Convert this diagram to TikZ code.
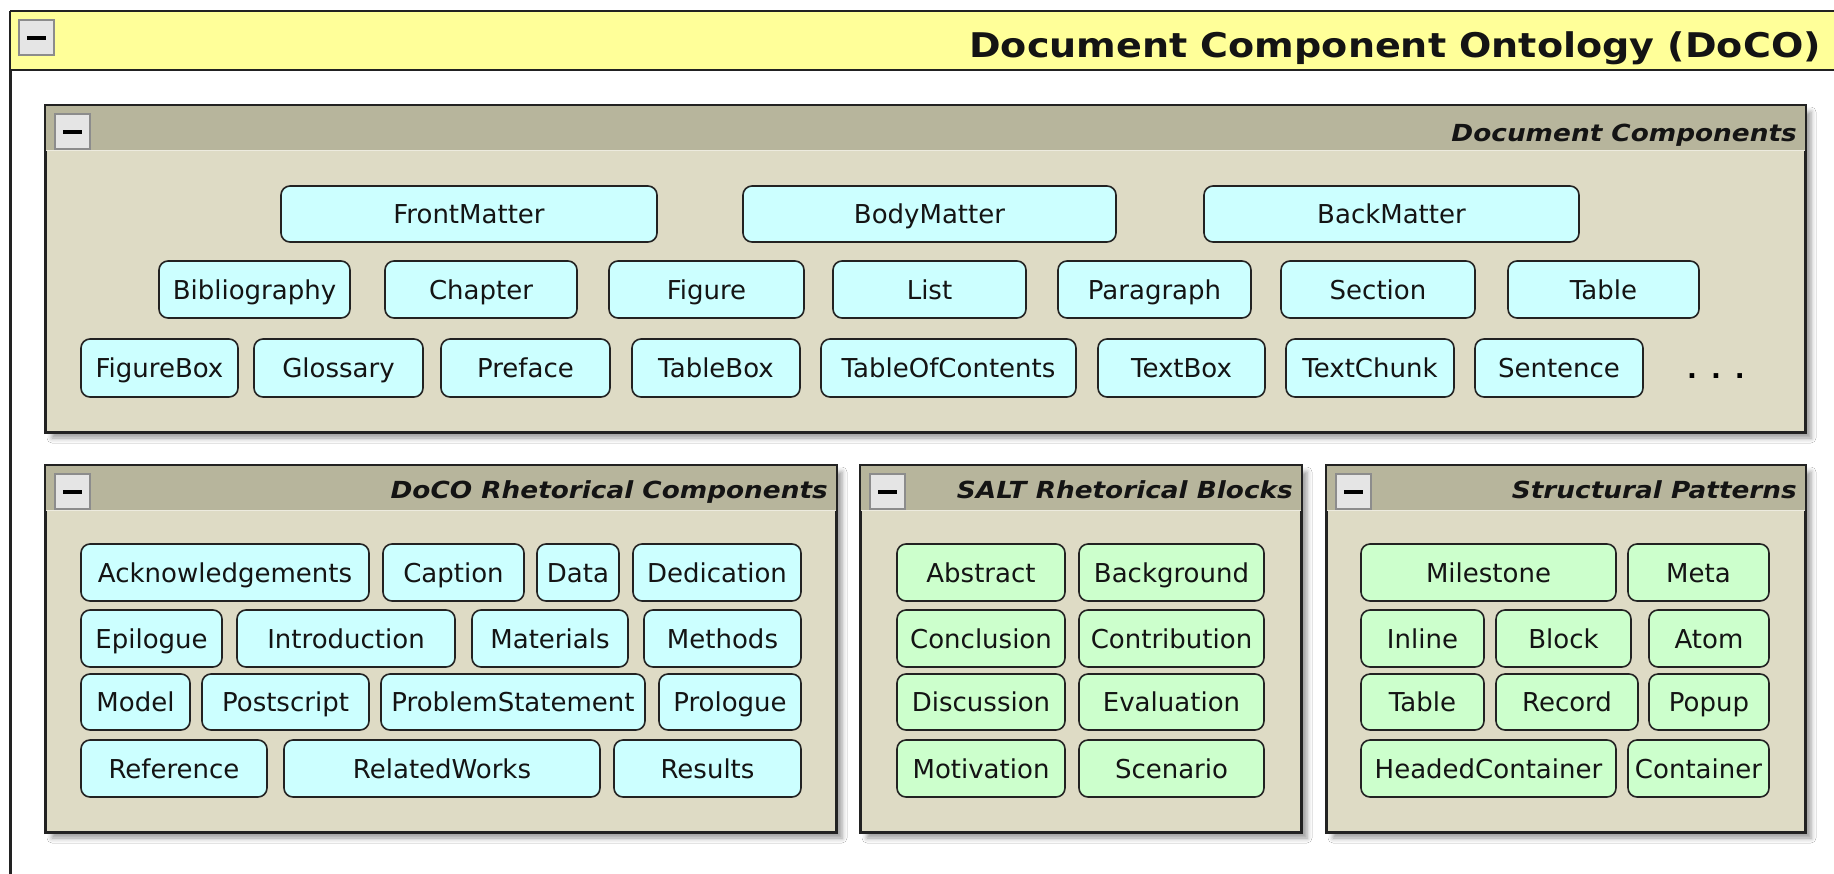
\documentclass[tikz,border=0pt]{standalone}
\usepackage{fontspec}
\setmainfont{DejaVu Sans}
\usepackage{graphicx}
\usetikzlibrary{shadows.blur}

\definecolor{hdryellow}{RGB}{255,255,153}
\definecolor{bandtan}{RGB}{183,181,156}
\definecolor{bodytan}{RGB}{222,219,197}
\definecolor{compcyan}{RGB}{204,255,255}
\definecolor{compgreen}{RGB}{204,255,204}
\definecolor{edgegray}{RGB}{34,34,34}
\definecolor{btnfill}{RGB}{229,229,229}
\definecolor{btnedge}{RGB}{140,140,140}

\tikzset{
  comp/.style={draw=edgegray, line width=1.6pt, rounded corners=9pt, inner sep=0pt,
    text height=19pt, text depth=0pt, font=\fontsize{26}{30}\selectfont, text=black!92},
  cyanbox/.style={comp, fill=compcyan},
  greenbox/.style={comp, fill=compgreen},
  panelframe/.style={draw=edgegray, line width=2pt, fill=bodytan, inner sep=0pt,
    blur shadow={shadow xshift=6pt, shadow yshift=-6pt, shadow blur radius=5pt, shadow opacity=40}},
  collapsebtn/.style={draw=btnedge, fill=btnfill, line width=1.5pt, minimum size=35pt, inner sep=0pt},
  paneltitle/.style={anchor=base east, inner sep=0pt, text=black!92,
    font=\fontsize{23.5}{28}\selectfont\bfseries\itshape},
}

% component box: style, name, left, right, top, bottom, label
\newcommand\comp[7]{%
  \node[#1, minimum width={#4-#3}, minimum height={#6-#5}] (#2) at ({(#3+#4)/2},{(#5+#6)/2}) {#7};}

% titled panel: name, left, right, top, bottom, title, baseline offset
\newcommand\titledpanel[7]{%
  \node[panelframe, minimum width={#3-#2}, minimum height={#5-#4}] (#1) at ({(#2+#3)/2},{(#4+#5)/2}) {};
  \fill[bandtan] (#2,#4) rectangle (#3,#4+44);
  \draw[white!45!bodytan, line width=1pt] (#2,#4+44.5) -- (#3,#4+44.5);
  \draw[edgegray, line width=2pt] (#1.north west) rectangle (#1.south east);
  \node[collapsebtn] (#1-btn) at ({#2+26.5},{#4+25.5}) {\rule[-2pt]{19pt}{4pt}};
  \node[paneltitle] (#1-title) at ({#3-8},{#4+#7}) {\scalebox{1.12}[1]{#6}};}

\begin{document}
\begin{tikzpicture}[x=1pt, y=-1pt]
\path[use as bounding box] (0,0) rectangle (1834,873);
\clip (0,0) rectangle (1834,873);

% outer ontology frame with its yellow header
\node[draw=edgegray, line width=2pt, fill=white, minimum width=1900pt, minimum height=900pt,
      anchor=north west, inner sep=0pt] (frame) at (10,11) {};
\fill[hdryellow] (10,11) rectangle (1910,70);
\draw[edgegray, line width=2pt] (10,70) -- (1910,70);
\draw[edgegray, line width=2pt] (frame.north west) -- (frame.north east);
\draw[edgegray, line width=2pt] (frame.north west) -- (frame.south west);
\node[collapsebtn] (frame-btn) at (36.5,37.5) {\rule[-2pt]{19pt}{4pt}};
\node[anchor=base east, inner sep=0pt, text=black!92, font=\fontsize{34}{40}\selectfont\bfseries]
  (frame-title) at (1821,57) {\scalebox{1.12}[1]{Document Component Ontology (DoCO)}};

% ---- Document Components ----
\titledpanel{dc}{46}{1805}{106}{432}{Document Components}{35}
\comp{cyanbox}{FrontMatter}{281}{657}{186}{242}{FrontMatter}
\comp{cyanbox}{BodyMatter}{743}{1116}{186}{242}{BodyMatter}
\comp{cyanbox}{BackMatter}{1204}{1579}{186}{242}{BackMatter}

\comp{cyanbox}{Bibliography}{159}{350}{261}{318}{Bibliography}
\comp{cyanbox}{Chapter}{385}{577}{261}{318}{Chapter}
\comp{cyanbox}{Figure}{609}{804}{261}{318}{Figure}
\comp{cyanbox}{List}{833}{1026}{261}{318}{List}
\comp{cyanbox}{Paragraph}{1058}{1251}{261}{318}{Paragraph}
\comp{cyanbox}{Section}{1281}{1475}{261}{318}{Section}
\comp{cyanbox}{dcTable}{1508}{1699}{261}{318}{Table}

\comp{cyanbox}{FigureBox}{81}{238}{339}{397}{FigureBox}
\comp{cyanbox}{Glossary}{254}{423}{339}{397}{Glossary}
\comp{cyanbox}{Preface}{441}{610}{339}{397}{Preface}
\comp{cyanbox}{TableBox}{632}{800}{339}{397}{TableBox}
\comp{cyanbox}{TableOfContents}{821}{1076}{339}{397}{TableOfContents}
\comp{cyanbox}{TextBox}{1098}{1265}{339}{397}{TextBox}
\comp{cyanbox}{TextChunk}{1286}{1454}{339}{397}{TextChunk}
\comp{cyanbox}{Sentence}{1475}{1643}{339}{397}{Sentence}
\node[inner sep=0pt, font=\fontsize{26}{30}\selectfont\bfseries] (more) at (1716,376)
  {.\hspace{14pt}.\hspace{14pt}.};

% ---- DoCO Rhetorical Components ----
\titledpanel{rc}{46}{836}{466}{832}{DoCO Rhetorical Components}{32}
\comp{cyanbox}{Acknowledgements}{81}{369}{544}{601}{Acknowledgements}
\comp{cyanbox}{Caption}{383}{524}{544}{601}{Caption}
\comp{cyanbox}{Data}{537}{619}{544}{601}{Data}
\comp{cyanbox}{Dedication}{633}{801}{544}{601}{Dedication}

\comp{cyanbox}{Epilogue}{81}{222}{610}{667}{Epilogue}
\comp{cyanbox}{Introduction}{237}{455}{610}{667}{Introduction}
\comp{cyanbox}{Materials}{472}{628}{610}{667}{Materials}
\comp{cyanbox}{Methods}{644}{801}{610}{667}{Methods}

\comp{cyanbox}{Model}{81}{190}{674}{730}{Model}
\comp{cyanbox}{Postscript}{202}{369}{674}{730}{Postscript}
\comp{cyanbox}{ProblemStatement}{381}{645}{674}{730}{ProblemStatement}
\comp{cyanbox}{Prologue}{659}{801}{674}{730}{Prologue}

\comp{cyanbox}{Reference}{81}{267}{740}{797}{Reference}
\comp{cyanbox}{RelatedWorks}{284}{600}{740}{797}{RelatedWorks}
\comp{cyanbox}{Results}{614}{801}{740}{797}{Results}

% ---- SALT Rhetorical Blocks ----
\titledpanel{salt}{861}{1301}{466}{832}{SALT Rhetorical Blocks}{32}
\comp{greenbox}{Abstract}{897}{1065}{544}{601}{Abstract}
\comp{greenbox}{Background}{1079}{1264}{544}{601}{Background}
\comp{greenbox}{Conclusion}{897}{1065}{610}{667}{Conclusion}
\comp{greenbox}{Contribution}{1079}{1264}{610}{667}{Contribution}
\comp{greenbox}{Discussion}{897}{1065}{674}{730}{Discussion}
\comp{greenbox}{Evaluation}{1079}{1264}{674}{730}{Evaluation}
\comp{greenbox}{Motivation}{897}{1065}{740}{797}{Motivation}
\comp{greenbox}{Scenario}{1079}{1264}{740}{797}{Scenario}

% ---- Structural Patterns ----
\titledpanel{sp}{1327}{1805}{466}{832}{Structural Patterns}{32}
\comp{greenbox}{Milestone}{1361}{1616}{544}{601}{Milestone}
\comp{greenbox}{Meta}{1628}{1769}{544}{601}{Meta}
\comp{greenbox}{Inline}{1361}{1484}{610}{667}{Inline}
\comp{greenbox}{Block}{1496}{1631}{610}{667}{Block}
\comp{greenbox}{Atom}{1649}{1769}{610}{667}{Atom}
\comp{greenbox}{spTable}{1361}{1484}{674}{730}{Table}
\comp{greenbox}{Record}{1496}{1638}{674}{730}{Record}
\comp{greenbox}{Popup}{1649}{1769}{674}{730}{Popup}
\comp{greenbox}{HeadedContainer}{1361}{1616}{740}{797}{HeadedContainer}
\comp{greenbox}{Container}{1628}{1769}{740}{797}{Container}
\end{tikzpicture}
\end{document}
